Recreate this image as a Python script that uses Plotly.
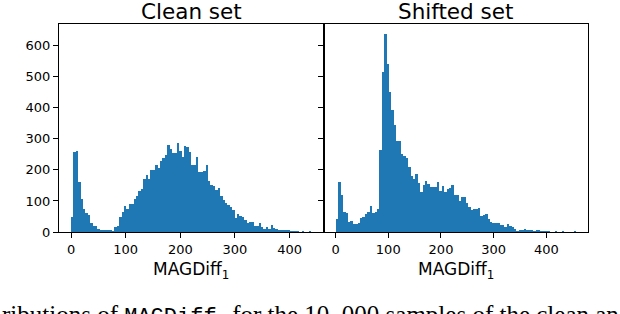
import numpy as np
import plotly.graph_objects as go

# ---- data ----
clean_range = [0, 440]      # min / max of the clean-set values (100 bins)
shifted_range = [0, 456]    # min / max of the shifted-set values (100 bins)

clean_counts = [
    48, 258, 261, 161, 106, 74, 61, 55, 29, 19,
    19, 10, 6, 6, 4, 6, 6, 3, 17, 19,
    48, 66, 84, 74, 90, 90, 106, 116, 132, 139,
    171, 184, 171, 200, 200, 216, 206, 229, 239, 248,
    281, 268, 255, 255, 287, 261, 242, 277, 274, 258,
    216, 216, 242, 194, 194, 196, 216, 165, 152, 148,
    135, 142, 116, 103, 94, 87, 81, 72, 45, 58,
    52, 48, 39, 29, 32, 32, 19, 19, 29, 16,
    10, 16, 10, 23, 13, 10, 6, 6, 6, 6,
    6, 3, 3, 3, 3, 0, 3, 0, 0, 3,
]

shifted_counts = [
    41, 160, 119, 63, 60, 31, 34, 25, 25, 28,
    44, 47, 57, 63, 83, 60, 63, 73, 263, 514,
    638, 540, 450, 393, 345, 293, 292, 251, 245, 239,
    210, 181, 171, 187, 158, 129, 152, 165, 155, 145,
    145, 145, 161, 132, 148, 129, 139, 142, 152, 119,
    119, 100, 113, 113, 94, 81, 71, 74, 74, 77,
    50, 55, 58, 42, 32, 29, 29, 29, 23, 23,
    16, 26, 19, 16, 10, 3, 6, 6, 10, 6,
    6, 6, 3, 6, 6, 3, 3, 3, 3, 0,
    0, 3, 0, 0, 3, 0, 0, 0, 0, 3,
]

titles = ["Clean set", "Shifted set"]
x_label = "MAGDiff<sub>1</sub>"
x_ticks = [0, 100, 200, 300, 400]
y_ticks = [0, 100, 200, 300, 400, 500, 600]
caption = ("ributions of <span style=\"font-family:'Liberation Mono';font-size:22px\">MAGDiff<sub>1</sub></span>"
           " for the 10, 000 samples of the clean an")

BLUE = "#1f77b4"


def bars(counts, rng, xa, ya):
    edges = np.linspace(rng[0], rng[1], len(counts) + 1)
    centers = (edges[:-1] + edges[1:]) / 2
    width = edges[1] - edges[0]
    return go.Bar(x=centers, y=counts, width=width, marker=dict(color=BLUE, line=dict(width=0)),
                  xaxis=xa, yaxis=ya, showlegend=False, hoverinfo="skip")


fig = go.Figure()
fig.add_trace(bars(clean_counts, clean_range, "x", "y"))
fig.add_trace(bars(shifted_counts, shifted_range, "x2", "y2"))


def pad(rng):
    span = rng[1] - rng[0]
    return [rng[0] - 0.05 * span, rng[1] + 0.05 * span]


ymax = max(max(clean_counts), max(shifted_counts)) * 1.05

tickfont = dict(family="DejaVu Sans", size=13, color="black")
axis_common = dict(showline=True, mirror=True, linecolor="black", linewidth=1,
                   ticks="outside", ticklen=5, tickwidth=1, tickcolor="black",
                   showgrid=False, zeroline=False, tickfont=tickfont)

fig.update_layout(
    width=620, height=314,
    margin=dict(l=59, r=32, t=24, b=82),
    plot_bgcolor="white", paper_bgcolor="white",
    bargap=0,
    xaxis=dict(domain=[0, 0.5], range=pad(clean_range), tickvals=x_ticks, anchor="y", **axis_common),
    xaxis2=dict(domain=[0.5, 1], range=pad(shifted_range), tickvals=x_ticks, anchor="y2", **axis_common),
    yaxis=dict(range=[0, ymax], tickvals=y_ticks, anchor="x", **axis_common),
    yaxis2=dict(range=[0, ymax], tickvals=y_ticks, anchor="x2", showticklabels=False, **axis_common),
)

ann = []
for i, t in enumerate(titles):
    cx = 0.25 + 0.5 * i
    ann.append(dict(text=t, x=cx, y=1.062, xref="paper", yref="paper", xanchor="center",
                    yanchor="middle", showarrow=False,
                    font=dict(family="DejaVu Sans", size=21.5, color="black")))
    ann.append(dict(text=x_label, x=cx, y=-0.183, xref="paper", yref="paper", xanchor="center",
                    yanchor="middle", showarrow=False,
                    font=dict(family="DejaVu Sans", size=17, color="black")))
ann.append(dict(text=caption, x=-0.1115, y=-0.41, xref="paper", yref="paper", xanchor="left",
                yanchor="middle", showarrow=False,
                font=dict(family="Liberation Serif", size=25, color="black")))
fig.update_layout(annotations=ann)

fig.write_html("out.html", config={"displayModeBar": False},
               post_script="document.body.style.margin='0';")
